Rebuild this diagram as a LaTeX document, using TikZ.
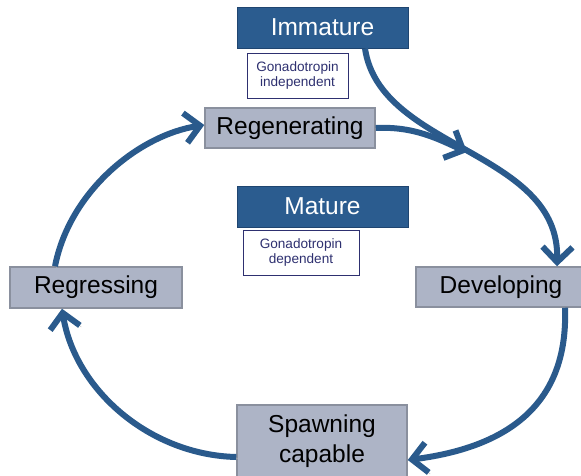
\documentclass[tikz,border=0pt]{standalone}
\usepackage{fontspec}
\setmainfont{Liberation Sans}
\usetikzlibrary{arrows.meta}
\definecolor{dblue}{HTML}{2B5C8F}
\definecolor{dbluedge}{HTML}{1F4570}
\definecolor{grayf}{HTML}{ADB4C6}
\definecolor{graye}{HTML}{8A909E}
\definecolor{navytext}{HTML}{2E3070}
\definecolor{arrowc}{HTML}{2A5A8C}
\tikzset{
  stagebox/.style={draw=graye, fill=grayf, line width=1.5pt, inner sep=0pt,
    font=\fontsize{24.5}{30}\selectfont, text=black, align=center},
  phasebox/.style={draw=dbluedge, fill=dblue, line width=1pt, inner sep=0pt,
    minimum width=171pt, minimum height=41pt,
    font=\fontsize{24.5}{30}\selectfont, text=white},
  notebox/.style={draw=navytext, fill=white, line width=1pt, inner sep=0pt,
    minimum height=45pt, font=\fontsize{13.6}{15.5}\selectfont, text=navytext, align=center},
  cyc/.style={draw=arrowc, line width=6pt,
    -{Straight Barb[length=15pt,width=30pt]},
    preaction={draw=gray!55, transform canvas={shift={(1.5pt,-1.5pt)}}}}
}
\begin{document}
\begin{tikzpicture}[x=1pt,y=-1pt]
\useasboundingbox (0,0) rectangle (581,475);
\fill[white] (0,0) rectangle (581,475);

\node[phasebox] (imm) at (322.5,27.5) {Immature};
\node[notebox, minimum width=101pt] (indep) at (297.5,75.5) {Gonadotropin\\independent};
\node[stagebox, minimum width=170pt, minimum height=40pt] (regen) at (290,128) {Regenerating};
\node[phasebox] (mat) at (322.5,206.5) {Mature};
\node[notebox, minimum width=116pt] (dep) at (301,252.5) {Gonadotropin\\dependent};
\node[stagebox, minimum width=172pt, minimum height=41pt] (regr) at (96,287.5) {Regressing};
\node[stagebox, minimum width=170pt, minimum height=40pt] (dev) at (501,287) {Developing};
\node[stagebox, minimum width=170pt, minimum height=72pt] (spawn) at (322,441) {Spawning\\capable};

\coordinate (join) at (467,152);

\draw[cyc] ([xshift=42.5pt]imm.south) .. controls (380,150) and (560,150) .. ([xshift=56pt]dev.north);
\draw[cyc] (regen.east) .. controls (415,126) and (440,140) .. (join);
\draw[cyc] ([xshift=64pt]dev.south) .. controls (568,390) and (525,445) .. ([yshift=-19pt]spawn.east);
\draw[cyc] ([yshift=-16pt]spawn.west) .. controls (150,455) and (75,390) .. ([xshift=-34pt]regr.south);
\draw[cyc] ([xshift=-41pt]regr.north) .. controls (70,190) and (140,135) .. ([yshift=3pt]regen.west);
\end{tikzpicture}
\end{document}
